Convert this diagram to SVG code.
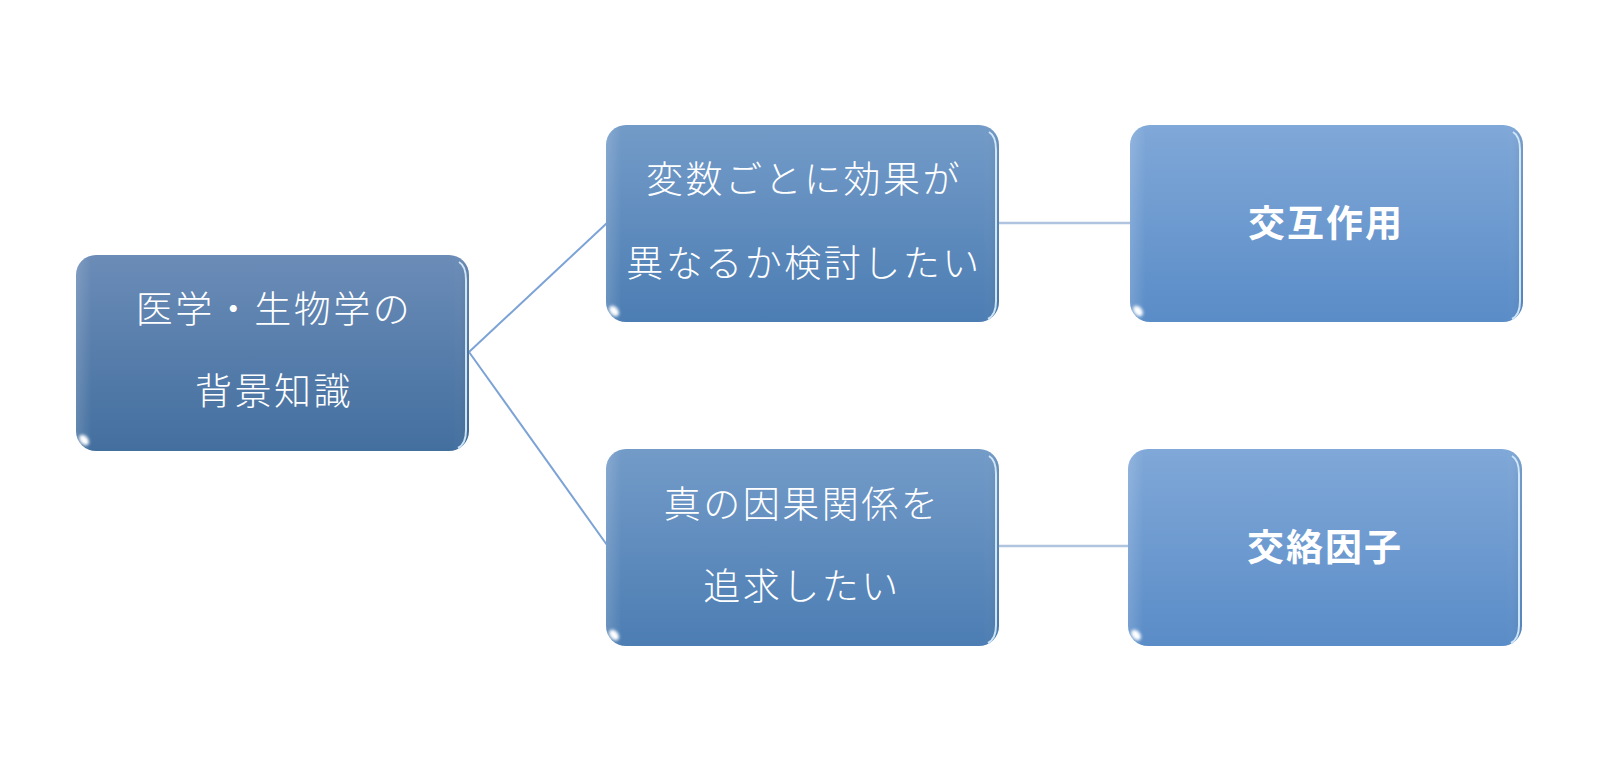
<svg xmlns="http://www.w3.org/2000/svg" width="1616" height="774" viewBox="0 0 1616 774">
<style>
.t{font-family:"Noto Sans CJK JP","Noto Sans CJK SC",sans-serif;font-size:37px;font-weight:300;fill:#ffffff;text-anchor:middle;letter-spacing:2.5px}
.b{font-family:"Noto Sans CJK JP","Noto Sans CJK SC",sans-serif;font-size:37px;font-weight:bold;fill:#ffffff;text-anchor:middle;letter-spacing:2px}
.hl{fill:none;stroke:#c8e6ff;stroke-width:5;stroke-linecap:round;opacity:0.9;filter:url(#blur)}
.re{fill:none;stroke:#d8f0ff;stroke-width:2;opacity:0.9}
.spot{fill:#ffffff;filter:url(#blur2)}
</style>
<defs>
<linearGradient id="gL" x1="0" y1="0" x2="0" y2="1"><stop offset="0" stop-color="#6b8cb7"/><stop offset="1" stop-color="#436f9f"/></linearGradient>
<linearGradient id="gM" x1="0" y1="0" x2="0" y2="1"><stop offset="0" stop-color="#739bc8"/><stop offset="1" stop-color="#4c7db3"/></linearGradient>
<linearGradient id="gR" x1="0" y1="0" x2="0" y2="1"><stop offset="0" stop-color="#80a8d8"/><stop offset="1" stop-color="#5a8cc7"/></linearGradient>
<linearGradient id="gE" x1="0" y1="0" x2="1" y2="0"><stop offset="0" stop-color="#ffffff" stop-opacity="0.15"/><stop offset="0.04" stop-color="#ffffff" stop-opacity="0"/><stop offset="0.96" stop-color="#ffffff" stop-opacity="0"/><stop offset="1" stop-color="#000000" stop-opacity="0.08"/></linearGradient>
<filter id="blur" x="-5%" y="-50%" width="110%" height="200%"><feGaussianBlur stdDeviation="1.2"/></filter>
<filter id="blur2" x="-50%" y="-50%" width="200%" height="200%"><feGaussianBlur stdDeviation="1.5"/></filter>
</defs>
<rect width="1616" height="774" fill="#ffffff"/>
<g id="connectors">
<line x1="469" y1="352" x2="607" y2="223" stroke="#7ca3d6" stroke-width="2"/>
<line x1="469" y1="352" x2="607" y2="545" stroke="#7ca3d6" stroke-width="2"/>
<line x1="999" y1="223" x2="1130" y2="223" stroke="#b0c4e0" stroke-width="2.5"/>
<line x1="999" y1="546" x2="1128" y2="546" stroke="#b0c4e0" stroke-width="2.5"/>
</g>
<g id="node-root">
<rect x="76" y="255" width="393" height="196" rx="20" fill="url(#gL)"/>
<rect x="76" y="255" width="393" height="196" rx="20" fill="url(#gE)"/>
<line class="hl" x1="92" y1="262" x2="453" y2="262"/>
<path class="re" d="M459 262 Q466 266 466 280 L466 430 Q466 444 458 448"/>
<ellipse class="spot" cx="84" cy="440" rx="4" ry="6" transform="rotate(-40 84 440)"/>
<text class="t" x="274" y="323">医学・生物学の</text>
<text class="t" x="274" y="405">背景知識</text>
</g>
<g id="node-effect">
<rect x="606" y="125" width="393" height="197" rx="20" fill="url(#gM)"/>
<rect x="606" y="125" width="393" height="197" rx="20" fill="url(#gE)"/>
<line class="hl" x1="622" y1="132" x2="983" y2="132"/>
<path class="re" d="M989 132 Q996 136 996 150 L996 301 Q996 315 988 319"/>
<ellipse class="spot" cx="614" cy="311" rx="4" ry="6" transform="rotate(-40 614 311)"/>
<text class="t" x="804" y="193">変数ごとに効果が</text>
<text class="t" x="804" y="277">異なるか検討したい</text>
</g>
<g id="node-causal">
<rect x="606" y="449" width="393" height="197" rx="20" fill="url(#gM)"/>
<rect x="606" y="449" width="393" height="197" rx="20" fill="url(#gE)"/>
<line class="hl" x1="622" y1="456" x2="983" y2="456"/>
<path class="re" d="M989 456 Q996 460 996 474 L996 625 Q996 639 988 643"/>
<ellipse class="spot" cx="614" cy="635" rx="4" ry="6" transform="rotate(-40 614 635)"/>
<text class="t" x="802" y="518">真の因果関係を</text>
<text class="t" x="802" y="600">追求したい</text>
</g>
<g id="node-interaction">
<rect x="1130" y="125" width="393" height="197" rx="20" fill="url(#gR)"/>
<rect x="1130" y="125" width="393" height="197" rx="20" fill="url(#gE)"/>
<line class="hl" x1="1146" y1="132" x2="1507" y2="132"/>
<path class="re" d="M1513 132 Q1520 136 1520 150 L1520 301 Q1520 315 1512 319"/>
<ellipse class="spot" cx="1138" cy="311" rx="4" ry="6" transform="rotate(-40 1138 311)"/>
<text class="b" x="1326" y="237">交互作用</text>
</g>
<g id="node-confounder">
<rect x="1128" y="449" width="394" height="197" rx="20" fill="url(#gR)"/>
<rect x="1128" y="449" width="394" height="197" rx="20" fill="url(#gE)"/>
<line class="hl" x1="1144" y1="456" x2="1506" y2="456"/>
<path class="re" d="M1512 456 Q1519 460 1519 474 L1519 625 Q1519 639 1511 643"/>
<ellipse class="spot" cx="1136" cy="635" rx="4" ry="6" transform="rotate(-40 1136 635)"/>
<text class="b" x="1325" y="561">交絡因子</text>
</g>
</svg>
